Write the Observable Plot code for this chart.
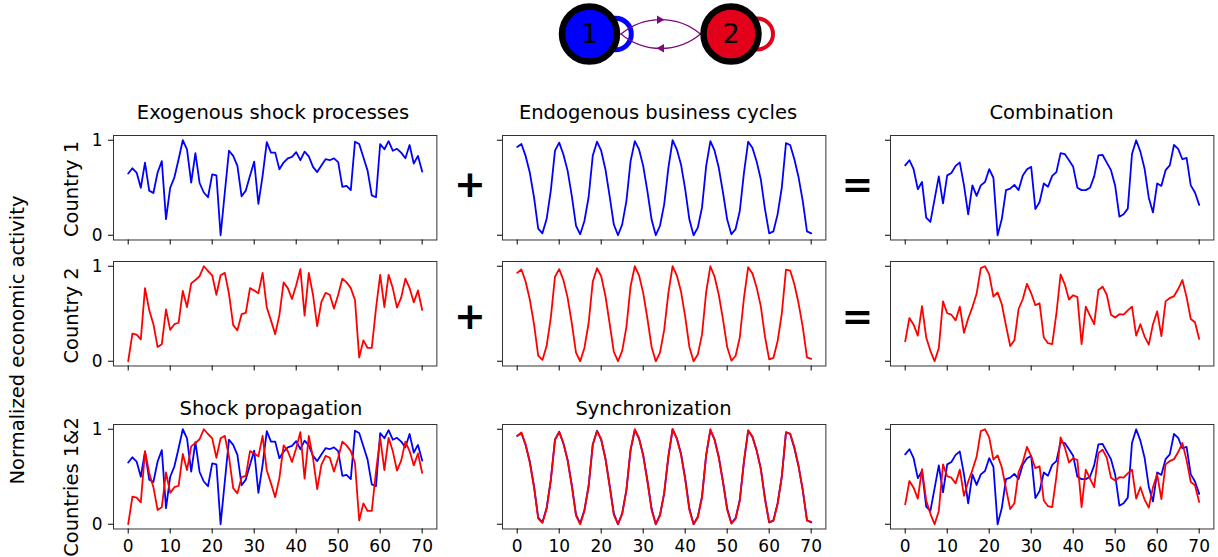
<!DOCTYPE html>
<html><head><meta charset="utf-8">
<script src="https://cdn.jsdelivr.net/npm/d3@7"></script>
<script src="https://cdn.jsdelivr.net/npm/@observablehq/plot@0.6"></script>
<style>
html,body{margin:0;padding:0;background:#fff;}
#fig{position:relative;width:1218px;height:557px;overflow:hidden;font-family:"DejaVu Sans",sans-serif;}
#fig > svg{position:absolute;}
</style></head><body><div id="fig"></div>
<script>
// ---------------- data ----------------
const xTicks = [0, 10, 20, 30, 40, 50, 60, 70];
const yTicks = [0, 1];

// exogenous shock processes
const shock1 = [0.65,0.705,0.66,0.50,0.765,0.47,0.445,0.66,0.78,0.17,
 0.50,0.61,0.80,1.0,0.905,0.555,0.865,0.55,0.45,0.40,
 0.64,0.63,0.0,0.45,0.89,0.835,0.73,0.41,0.47,0.625,
 0.775,0.33,0.625,0.98,0.87,0.87,0.695,0.765,0.81,0.825,
 0.875,0.79,0.88,0.83,0.72,0.665,0.735,0.80,0.79,0.81,
 0.77,0.51,0.52,0.475,0.985,0.96,0.82,0.68,0.42,0.40,
 0.96,0.905,0.99,0.89,0.91,0.87,0.81,0.95,0.755,0.835,
 0.67];
const shock2 = [0.0,0.29,0.28,0.23,0.77,0.54,0.39,0.15,0.18,0.545,
 0.33,0.39,0.405,0.74,0.57,0.82,0.855,0.895,1.0,0.95,
 0.905,0.70,0.905,0.93,0.71,0.38,0.325,0.495,0.51,0.77,
 0.745,0.715,0.93,0.565,0.43,0.285,0.485,0.83,0.77,0.655,
 0.80,0.97,0.48,0.93,0.70,0.37,0.625,0.72,0.70,0.555,
 0.70,0.87,0.83,0.77,0.645,0.04,0.22,0.14,0.14,0.555,
 0.91,0.57,0.91,0.77,0.565,0.67,0.87,0.77,0.62,0.745,
 0.54];
// endogenous business cycles
const cycle1 = [0.93,0.96,0.835,0.66,0.40,0.07,0.02,0.17,0.47,0.89,
 0.975,0.85,0.68,0.415,0.10,0.01,0.15,0.40,0.84,0.985,
 0.89,0.695,0.415,0.115,0.0,0.115,0.36,0.78,0.99,0.905,
 0.73,0.465,0.165,0.0,0.10,0.325,0.71,1.0,0.905,0.745,
 0.485,0.165,0.0,0.08,0.29,0.73,0.99,0.89,0.71,0.45,
 0.165,0.01,0.065,0.255,0.66,0.985,0.92,0.78,0.59,0.275,
 0.02,0.04,0.22,0.50,0.97,0.95,0.80,0.61,0.36,0.04,
 0.02];
const cycle2 = [0.93,0.965,0.84,0.65,0.39,0.06,0.014,0.16,0.46,0.89,
 0.97,0.855,0.67,0.40,0.09,0.0,0.14,0.40,0.84,0.98,
 0.895,0.69,0.40,0.10,0.0,0.11,0.36,0.79,1.0,0.905,
 0.72,0.45,0.15,0.0,0.09,0.33,0.72,1.0,0.905,0.735,
 0.47,0.15,0.0,0.07,0.28,0.73,1.0,0.89,0.70,0.44,
 0.15,0.007,0.055,0.25,0.67,0.99,0.925,0.78,0.58,0.26,
 0.02,0.035,0.21,0.50,0.965,0.955,0.81,0.61,0.36,0.04,
 0.025];
// combination
const combo1 = [0.735,0.79,0.695,0.485,0.56,0.185,0.14,0.38,0.62,0.335,
 0.63,0.655,0.73,0.765,0.525,0.22,0.525,0.415,0.525,0.56,
 0.695,0.605,0.0,0.17,0.475,0.49,0.53,0.475,0.63,0.695,
 0.72,0.275,0.35,0.545,0.51,0.625,0.665,0.865,0.855,0.79,
 0.72,0.50,0.475,0.475,0.50,0.62,0.84,0.845,0.765,0.685,
 0.52,0.195,0.22,0.28,0.855,1.0,0.88,0.70,0.395,0.24,
 0.545,0.52,0.685,0.735,0.95,0.91,0.80,0.815,0.525,0.45,
 0.32];
const combo2 = [0.21,0.455,0.385,0.27,0.58,0.25,0.11,0.0,0.14,0.63,
 0.505,0.49,0.43,0.575,0.30,0.45,0.57,0.71,0.98,1.0,
 0.915,0.68,0.725,0.60,0.375,0.16,0.22,0.55,0.655,0.815,
 0.715,0.59,0.61,0.25,0.19,0.18,0.50,0.915,0.81,0.65,
 0.695,0.675,0.18,0.575,0.48,0.39,0.75,0.785,0.70,0.49,
 0.46,0.495,0.49,0.535,0.575,0.27,0.39,0.26,0.175,0.39,
 0.525,0.265,0.63,0.665,0.685,0.76,0.855,0.675,0.445,0.41,
 0.235];

const colTitles = ["Exogenous shock processes", "Endogenous business cycles", "Combination"];
const row3Titles = ["Shock propagation", "Synchronization"];
const rowLabels = ["Country 1", "Country 2", "Countries 1&2"];
const yLabel = "Normalized economic activity";
const nodeLabels = ["1", "2"];
const countryColors = ["#0000ff", "#ff0000"];
const nodeColors = ["#0000ff", "#e3001b"];
const edgeColor = "#7a0a7a";

// ---------------- layout ----------------
const fig = document.getElementById("fig");
const FONT = "DejaVu Sans";
const LABEL_SIZE = 19.5;
const colLeft = [113.3, 501.7, 890];
const rowTop = [134.5, 260.5, 423.7];
const frameW = 323.4, frameH = 104.5;
const M = {l: 40, r: 4, t: 4, b: 32};

const grid = [
  [[shock1], [cycle1], [combo1]],
  [[shock2], [cycle2], [combo2]],
  [[shock1, shock2], [cycle1, cycle2], [combo1, combo2]]
];
const seriesColor = [[0], [1], [0, 1]];

grid.forEach((row, r) => row.forEach((seriesList, c) => {
  const marks = seriesList.map((s, k) => Plot.line(s, {
    x: (d, i) => i, y: d => d,
    stroke: countryColors[seriesColor[r][k]], strokeWidth: 1.8
  }));
  const svg = Plot.plot({
    width: frameW + M.l + M.r, height: frameH + M.t + M.b,
    marginLeft: M.l, marginRight: M.r, marginTop: M.t, marginBottom: M.b,
    x: {domain: [-3.5, 73.5]},
    y: {domain: [-0.05, 1.05]},
    style: {fontFamily: FONT, fontSize: "17px", background: "none", overflow: "visible", color: "black"},
    marks: [
      ...marks,
      Plot.frame({stroke: "#333", strokeWidth: 1}),
      Plot.axisX({ticks: xTicks, tickSize: 5, tickPadding: 5.5, label: null,
        tickFormat: r === 2 ? d3.format("d") : () => ""}),
      Plot.axisY({ticks: yTicks, tickSize: 5, tickPadding: 6, label: null,
        tickFormat: c === 0 ? d3.format("d") : () => ""})
    ]
  });
  svg.style.left = (colLeft[c] - M.l) + "px";
  svg.style.top = (rowTop[r] - M.t) + "px";
  fig.appendChild(svg);
}));

// ---------------- network diagram ----------------
const netPos = [{x: 589, y: 33.5}, {x: 730.5, y: 33.5}];
const nodes = nodeLabels.map((id, i) => ({id, x: netPos[i].x, y: netPos[i].y, color: nodeColors[i]}));
const edges = [
  {x1: 620.5, y1: 33.5, x2: 700, y2: 33.5},   // 1 -> 2 (upper)
  {x1: 700, y1: 33.5, x2: 620.5, y2: 33.5}    // 2 -> 1 (lower)
];
const heads = [{x: 659, y: 19.2, rot: 90}, {x: 661, y: 47.8, rot: -90}];
const net = Plot.plot({
  width: 250, height: 75, margin: 0,
  x: {domain: [540, 790], range: [0, 250]},
  y: {domain: [0, 75], range: [0, 75]},
  color: {type: "identity"},
  style: {background: "none", overflow: "visible", fontFamily: FONT},
  axis: null,
  marks: [
    Plot.dot([nodes[0]], {x: d => d.x + 26, y: "y", r: 15.8, stroke: "color", strokeWidth: 5, fill: "none"}),
    Plot.dot([nodes[1]], {x: d => d.x + 26.5, y: "y", r: 15.5, stroke: "color", strokeWidth: 4, fill: "none"}),
    Plot.arrow(edges, {x1: "x1", y1: "y1", x2: "x2", y2: "y2", bend: 40, headLength: 0,
      stroke: edgeColor, strokeWidth: 1.2}),
    Plot.dot(heads, {x: "x", y: "y", symbol: "triangle", r: 3.2, rotate: "rot", fill: edgeColor, stroke: "none"}),
    Plot.dot(nodes, {x: "x", y: "y", r: 27.5, fill: "color", stroke: "black", strokeWidth: 6.5}),
    Plot.text(nodes, {x: "x", y: "y", text: "id", fontSize: 27, fill: "black", fontFamily: FONT})
  ]
});
net.style.left = "540px";
net.style.top = "0px";
fig.appendChild(net);

// ---------------- text overlay ----------------
const ov = d3.select(fig).append("svg")
  .attr("width", 1218).attr("height", 557)
  .style("left", "0px").style("top", "0px")
  .style("font-family", FONT).style("pointer-events", "none");

const titleX = [273, 658, 1051.5];
colTitles.forEach((t, i) => ov.append("text").attr("x", titleX[i]).attr("y", 119)
  .attr("text-anchor", "middle").attr("font-size", LABEL_SIZE).text(t));
const row3X = [271, 653.5];
row3Titles.forEach((t, i) => ov.append("text").attr("x", row3X[i]).attr("y", 414.5)
  .attr("text-anchor", "middle").attr("font-size", LABEL_SIZE).text(t));
const rowLabelY = [189, 315.5, 487];
rowLabels.forEach((t, i) => ov.append("text")
  .attr("transform", `translate(77.5,${rowLabelY[i]}) rotate(-90)`)
  .attr("text-anchor", "middle").attr("font-size", LABEL_SIZE).text(t));
ov.append("text").attr("transform", "translate(24,340) rotate(-90)")
  .attr("text-anchor", "middle").attr("font-size", LABEL_SIZE).text(yLabel);

const ops = [["+", 470, 184], ["=", 857.5, 184], ["+", 470, 316], ["=", 857.5, 316]];
ops.forEach(([s, x, y]) => ov.append("text").attr("x", x).attr("y", y + 13)
  .attr("text-anchor", "middle").attr("font-size", 38).attr("font-weight", "bold").text(s));
</script></body></html>
